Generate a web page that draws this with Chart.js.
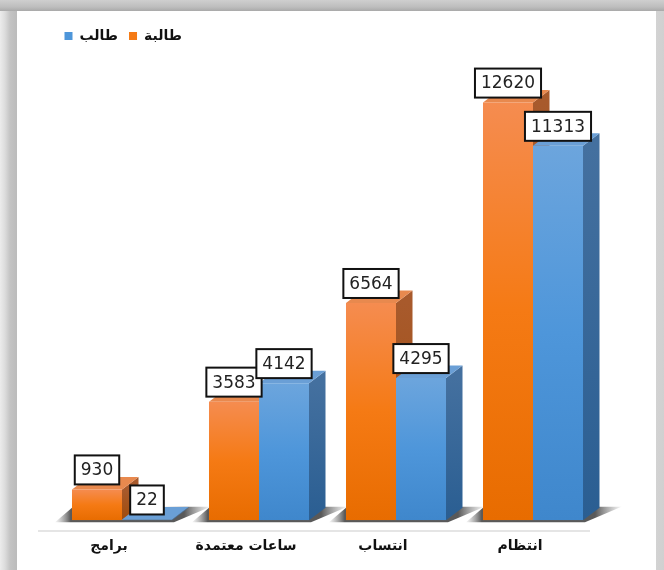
<!DOCTYPE html>
<html>
<head>
<meta charset="utf-8">
<script src="https://cdn.jsdelivr.net/npm/chart.js@4"></script>
<style>
  html, body { margin: 0; padding: 0; background: #fff; }
  #frame {
    position: relative; width: 664px; height: 570px; overflow: hidden;
    background: linear-gradient(to right, #ececec 0, #dcdcdc 5px, #c4c4c4 10px, #bcbcbc 16px, #d8d8d8 640px, #d0d0d0 664px);
  }
  #topband {
    position: absolute; left: 0; top: 0; width: 664px; height: 11px;
    background: linear-gradient(to bottom, #cfcfcf 0, #bdbdbd 7px, #a9a9a9 11px);
  }
  #panel {
    position: absolute; left: 17px; top: 11px; width: 639px; height: 570px;
    background: #fff;
  }
  canvas { position: absolute; left: 0; top: 0; }
</style>
</head>
<body>
<div id="frame">
  <div id="topband"></div>
  <div id="panel"></div>
  <canvas id="chart" width="664" height="570"></canvas>
</div>
<script>
// Categories run left to right as in the picture
const CATEGORIES = ["برامج", "ساعات معتمدة", "انتساب", "انتظام"];
const FEMALE = [930, 3583, 6564, 12620];
const MALE   = [22, 4142, 4295, 11313];
const FEMALE_LABEL = "طالبة";
const MALE_LABEL   = "طالب";
const SWATCHES = ["#f57a14", "#4e96da"];

// Fake 3D depth of the bars, in pixels
const DEPTH_X = 16.5;
const DEPTH_Y = 12.5;

const FACES = [
  { top: "#e8894e", side: "#a85a2c", sideLow: "#a04c0c" },
  { top: "#6a9fd6", side: "#44709f", sideLow: "#2a5e92" },
];

function barGradient(c, light, mid, dark) {
  const y = c.chart.scales.y;
  if (!y || c.raw == null) return mid;
  const y0 = y.getPixelForValue(c.raw);
  const y1 = y.getPixelForValue(0);
  if (!isFinite(y0) || !isFinite(y1)) return mid;
  const g = c.chart.ctx.createLinearGradient(0, y0, 0, y1);
  g.addColorStop(0, light);
  g.addColorStop(0.5, mid);
  g.addColorStop(1, dark);
  return g;
}

// ---------- plugins ----------

const floorShadow = {
  id: "floorShadow",
  beforeDatasetsDraw(chart) {
    const { ctx } = chart;
    const a = chart.getDatasetMeta(0).data;
    const b = chart.getDatasetMeta(1).data;
    const base = chart.scales.y.getPixelForValue(0);
    ctx.save();
    a.forEach((bar, i) => {
      const left = bar.x - bar.width / 2;
      const right = b[i].x + b[i].width / 2;
      // fades toward the bottom-left and the far right like the soft shadow in the picture
      const g = ctx.createLinearGradient(left - 17, 0, right + DEPTH_X + 24, 0);
      g.addColorStop(0, "rgba(120,120,120,0.05)");
      g.addColorStop(0.1, "rgba(60,60,60,0.85)");
      g.addColorStop(0.82, "rgba(60,60,60,0.85)");
      g.addColorStop(1, "rgba(120,120,120,0)");
      ctx.fillStyle = g;
      ctx.beginPath();
      ctx.moveTo(left - 17, base + 2);
      ctx.lineTo(right + 2, base + 2);
      ctx.lineTo(right + DEPTH_X + 22, base - DEPTH_Y - 1);
      ctx.lineTo(right + DEPTH_X, base - DEPTH_Y - 1);
      ctx.lineTo(left, base - DEPTH_Y);
      ctx.closePath();
      ctx.fill();
    });
    ctx.restore();
  },
};

const barDepth = {
  id: "barDepth",
  beforeDatasetsDraw(chart) {
    const { ctx } = chart;
    const base = chart.scales.y.getPixelForValue(0);
    ctx.save();
    [0, 1].forEach(d => {
      chart.getDatasetMeta(d).data.forEach(bar => {
        const l = bar.x - bar.width / 2;
        const r = bar.x + bar.width / 2;
        const side = ctx.createLinearGradient(0, bar.y, 0, base);
        side.addColorStop(0, FACES[d].side);
        side.addColorStop(1, FACES[d].sideLow);
        ctx.fillStyle = side;
        ctx.beginPath();
        ctx.moveTo(r, bar.y);
        ctx.lineTo(r + DEPTH_X, bar.y - DEPTH_Y);
        ctx.lineTo(r + DEPTH_X, base - DEPTH_Y);
        ctx.lineTo(r, base);
        ctx.closePath();
        ctx.fill();
        ctx.fillStyle = FACES[d].top;
        ctx.beginPath();
        ctx.moveTo(l, bar.y);
        ctx.lineTo(l + DEPTH_X, bar.y - DEPTH_Y);
        ctx.lineTo(r + DEPTH_X, bar.y - DEPTH_Y);
        ctx.lineTo(r, bar.y);
        ctx.closePath();
        ctx.fill();
      });
    });
    ctx.restore();
  },
};

const valueBoxes = {
  id: "valueBoxes",
  afterDatasetsDraw(chart) {
    const { ctx } = chart;
    ctx.save();
    ctx.font = '17px "DejaVu Sans"';
    ctx.textAlign = "center";
    ctx.textBaseline = "middle";
    [0, 1].forEach(d => {
      const meta = chart.getDatasetMeta(d);
      meta.data.forEach((bar, i) => {
        const txt = String(chart.data.datasets[d].data[i]);
        const w = ctx.measureText(txt).width + 12;
        const h = 29;
        const x = bar.x - w / 2;
        const y = bar.y - 5 - h;
        ctx.fillStyle = "#fff";
        ctx.strokeStyle = "#111";
        ctx.lineWidth = 2;
        ctx.fillRect(x, y, w, h);
        ctx.strokeRect(x, y, w, h);
        ctx.fillStyle = "#222";
        ctx.fillText(txt, bar.x, y + h / 2 + 1);
      });
    });
    ctx.restore();
  },
};

// pale rule under the bars, it sits a bit left of the plot
const axisRule = {
  id: "axisRule",
  afterDraw(chart) {
    const { ctx } = chart;
    ctx.save();
    ctx.strokeStyle = "#dcdcdc";
    ctx.lineWidth = 1.5;
    ctx.beginPath();
    ctx.moveTo(38, 531);
    ctx.lineTo(590, 531);
    ctx.stroke();
    ctx.restore();
  },
};

// ---------- chart ----------

new Chart(document.getElementById("chart"), {
  type: "bar",
  data: {
    labels: CATEGORIES,
    datasets: [
      {
        label: FEMALE_LABEL,
        data: FEMALE,
        backgroundColor: c => barGradient(c, "#f58c50", "#f57a14", "#e86c00"),
      },
      {
        label: MALE_LABEL,
        data: MALE,
        backgroundColor: c => barGradient(c, "#6ca5dd", "#4e96da", "#3f87cc"),
      },
    ],
  },
  plugins: [floorShadow, barDepth, valueBoxes, axisRule],
  options: {
    responsive: false,
    animation: false,
    layout: { padding: { left: 53.5, right: 62.5, top: 18, bottom: 5 } },
    datasets: { bar: { categoryPercentage: 0.73, barPercentage: 1 } },
    plugins: {
      tooltip: { enabled: false },
      legend: {
        position: "top",
        align: "start",
        reverse: true,
        labels: {
          boxWidth: 8,
          boxHeight: 8,
          padding: 11,
          color: "#111",
          font: { family: '"DejaVu Sans"', size: 14, weight: "bold" },
          generateLabels(chart) {
            const items = Chart.defaults.plugins.legend.labels.generateLabels(chart);
            items.forEach(it => {
              it.fillStyle = SWATCHES[it.datasetIndex];
              it.strokeStyle = SWATCHES[it.datasetIndex];
              it.lineWidth = 0;
            });
            return items;
          },
        },
      },
    },
    scales: {
      x: {
        grid: { display: false },
        border: { display: false },
        ticks: {
          labelOffset: -13,
          padding: 10,
          maxRotation: 0,
          color: "#111",
          font: { family: '"DejaVu Sans"', size: 14, weight: "bold" },
        },
      },
      y: {
        display: false,
        min: 0,
        max: 14118,
        grid: { display: false },
      },
    },
  },
});
</script>
</body>
</html>
